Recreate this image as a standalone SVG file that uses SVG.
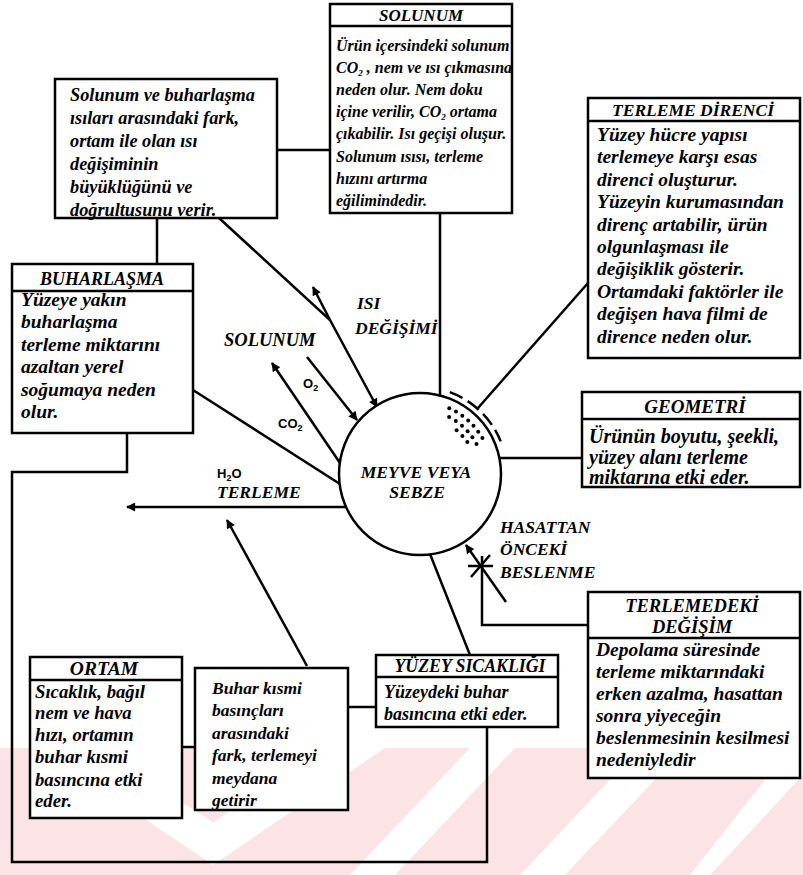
<svg xmlns="http://www.w3.org/2000/svg" width="803" height="875" viewBox="0 0 803 875">
<style>
.box{fill:#fff;stroke:#000;stroke-width:2.5}
.ln{fill:none;stroke:#000;stroke-width:2.5}
.t{font-family:"Liberation Serif","Times New Roman",serif;font-style:italic;font-weight:bold;fill:#000}
.h{font-family:"Liberation Serif","Times New Roman",serif;font-style:italic;font-weight:bold;fill:#000;text-anchor:middle}
.s{font-family:"Liberation Sans",Arial,sans-serif;font-weight:bold;font-size:13px;fill:#000}
.sub{font-size:9px}
.wm{fill:#fbe3e6}
</style>
<defs>
<marker id="ah" viewBox="0 0 10 10" refX="9" refY="5" markerWidth="14" markerHeight="9" markerUnits="userSpaceOnUse" orient="auto"><path d="M0,0 L10,5 L0,10 z" fill="#000"/></marker>
</defs>
<rect width="803" height="875" fill="#fff"/>
<g id="watermark">
<rect class="wm" x="0" y="748" width="803" height="127"/>
<polygon points="40,748 95,748 213,822 330,748 385,748 213,865" fill="#fff"/>
<polygon points="470,748 515,748 395,875 350,875" fill="#fff"/>
<polygon points="640,748 685,748 565,875 520,875" fill="#fff"/>
<polygon points="790,748 803,748 803,775 710,875 690,875" fill="#fff"/>
</g>
<g id="connectors">
<line class="ln" x1="277" y1="150" x2="330" y2="150"/>
<line class="ln" x1="157" y1="218" x2="157" y2="264"/>
<polyline class="ln" points="219,218 330,320 377,407" marker-end="url(#ah)"/>
<line class="ln" x1="330" y1="320" x2="313" y2="287" marker-end="url(#ah)"/>
<polyline class="ln" points="440,213 440,440 378,440" marker-end="url(#ah)"/>
<line class="ln" x1="307" y1="357" x2="357" y2="420" marker-end="url(#ah)"/>
<line class="ln" x1="340" y1="463" x2="272" y2="363" marker-end="url(#ah)"/>
<line class="ln" x1="193" y1="390" x2="340" y2="484"/>
<line class="ln" x1="346" y1="507" x2="127" y2="507" marker-end="url(#ah)"/>
<line class="ln" x1="307" y1="666" x2="227" y2="520" marker-end="url(#ah)"/>
<line class="ln" x1="430" y1="554" x2="470" y2="655"/>
<line class="ln" x1="506" y1="602" x2="466" y2="545" marker-end="url(#ah)"/>
<polyline class="ln" points="588,625 482,625 482,556"/>
<line class="ln" x1="468" y1="566" x2="493" y2="566"/>
<line class="ln" x1="471" y1="577" x2="490" y2="555"/>
<line class="ln" x1="500" y1="458" x2="582" y2="458"/>
<line class="ln" x1="478" y1="408" x2="588" y2="283"/>
<polyline class="ln" points="127,433 127,472 12,472 12,862 487,862 487,727"/>
<line class="ln" x1="182" y1="747" x2="195" y2="747"/>
<line class="ln" x1="348" y1="707" x2="376" y2="707"/>
</g>
<g id="fruit" font-size="17.6">
<circle cx="420" cy="474" r="81" fill="#fff" stroke="#000" stroke-width="2.5"/>
<path d="M449.8,392.2 A87,87 0 0 1 500.7,441.4" fill="none" stroke="#000" stroke-width="2.5" stroke-dasharray="14 6"/>
<g fill="#000">
<circle cx="449.3" cy="408.2" r="2"/><circle cx="456" cy="411.6" r="2"/><circle cx="462.3" cy="415.8" r="2"/><circle cx="468.2" cy="420.5" r="2"/><circle cx="473.5" cy="425.8" r="2"/><circle cx="478.2" cy="431.7" r="2"/><circle cx="482.4" cy="438" r="2"/>
<circle cx="449.1" cy="417" r="2"/><circle cx="455.8" cy="420.9" r="2"/><circle cx="462" cy="425.7" r="2"/><circle cx="467.6" cy="431.2" r="2"/><circle cx="472.4" cy="437.3" r="2"/><circle cx="476.5" cy="444" r="2"/>
<circle cx="456.6" cy="430.3" r="2"/><circle cx="462.4" cy="435.9" r="2"/><circle cx="467.3" cy="442.1" r="2"/>
</g>
<text class="h" x="416" y="478">MEYVE VEYA</text>
<text class="h" x="417" y="498">SEBZE</text>
</g>
<g id="labels" font-size="17.5">
<text class="t" x="357" y="309">ISI</text>
<text class="t" x="355" y="334">DEĞİŞİMİ</text>
<text class="t" x="224" y="346" font-size="18.5">SOLUNUM</text>
<text class="s" x="303" y="388">O<tspan class="sub" dy="3">2</tspan></text>
<text class="s" x="278" y="428">CO<tspan class="sub" dy="3">2</tspan></text>
<text class="s" x="217" y="478">H<tspan class="sub" dy="3">2</tspan><tspan dy="-3">O</tspan></text>
<text class="t" x="217" y="498">TERLEME</text>
<text class="t" x="500" y="533">HASATTAN</text>
<text class="t" x="500" y="555">ÖNCEKİ</text>
<text class="t" x="500" y="578">BESLENME</text>
</g>
<g id="isi-farki" font-size="18.3">
<rect class="box" x="55" y="79" width="222" height="139"/>
<text class="t" x="70" y="101">Solunum ve buharlaşma</text>
<text class="t" x="70" y="124">ısıları arasındaki fark,</text>
<text class="t" x="70" y="147">ortam ile olan ısı</text>
<text class="t" x="70" y="170">değişiminin</text>
<text class="t" x="70" y="193">büyüklüğünü ve</text>
<text class="t" x="70" y="216">doğrultusunu verir.</text>
</g>
<g id="solunum" font-size="16">
<rect class="box" x="330" y="4" width="182" height="209"/>
<line class="ln" x1="330" y1="26" x2="512" y2="26"/>
<text class="h" x="421" y="21" font-size="17">SOLUNUM</text>
<text class="t" x="336" y="51">Ürün içersindeki solunum</text>
<text class="t" x="336" y="73">CO<tspan class="sub" dy="3">2</tspan><tspan dy="-3"> , nem ve ısı çıkmasına</tspan></text>
<text class="t" x="336" y="95">neden olur. Nem doku</text>
<text class="t" x="336" y="117">içine verilir, CO<tspan class="sub" dy="3">2</tspan><tspan dy="-3"> ortama</tspan></text>
<text class="t" x="336" y="139">çıkabilir. Isı geçişi oluşur.</text>
<text class="t" x="336" y="162">Solunum ısısı, terleme</text>
<text class="t" x="336" y="184">hızını artırma</text>
<text class="t" x="336" y="206">eğilimindedir.</text>
</g>
<g id="terleme-direnci" font-size="19.5">
<rect class="box" x="588" y="98" width="212" height="260"/>
<line class="ln" x1="588" y1="121" x2="800" y2="121"/>
<text class="h" x="693" y="116" font-size="17.5">TERLEME DİRENCİ</text>
<text class="t" x="597" y="141">Yüzey hücre yapısı</text>
<text class="t" x="597" y="163">terlemeye karşı esas</text>
<text class="t" x="597" y="186">direnci oluşturur.</text>
<text class="t" x="597" y="208">Yüzeyin kurumasından</text>
<text class="t" x="597" y="231">direnç artabilir, ürün</text>
<text class="t" x="597" y="253">olgunlaşması ile</text>
<text class="t" x="597" y="275">değişiklik gösterir.</text>
<text class="t" x="597" y="298">Ortamdaki faktörler ile</text>
<text class="t" x="597" y="320">değişen hava filmi de</text>
<text class="t" x="597" y="343">dirence neden olur.</text>
</g>
<g id="buharlasma" font-size="19.5">
<rect class="box" x="12" y="264" width="181" height="169"/>
<line class="ln" x1="12" y1="291" x2="193" y2="291"/>
<text class="h" x="102" y="285" font-size="18">BUHARLAŞMA</text>
<text class="t" x="21" y="306">Yüzeye yakın</text>
<text class="t" x="21" y="328">buharlaşma</text>
<text class="t" x="21" y="351">terleme miktarını</text>
<text class="t" x="21" y="373">azaltan yerel</text>
<text class="t" x="21" y="396">soğumaya neden</text>
<text class="t" x="21" y="418">olur.</text>
</g>
<g id="geometri" font-size="20">
<rect class="box" x="582" y="392" width="218" height="95"/>
<line class="ln" x1="582" y1="419" x2="800" y2="419"/>
<text class="h" x="695" y="413" font-size="19">GEOMETRİ</text>
<text class="t" x="589" y="443">Ürünün boyutu, şeekli,</text>
<text class="t" x="589" y="464">yüzey alanı terleme</text>
<text class="t" x="589" y="484">miktarına etki eder.</text>
</g>
<g id="terlemedeki-degisim" font-size="19.5">
<rect class="box" x="588" y="592" width="212" height="186"/>
<line class="ln" x1="588" y1="638" x2="800" y2="638"/>
<text class="h" x="692" y="612" font-size="18.5">TERLEMEDEKİ</text>
<text class="h" x="692" y="633" font-size="18.5">DEĞİŞİM</text>
<text class="t" x="596" y="656">Depolama süresinde</text>
<text class="t" x="596" y="678">terleme miktarındaki</text>
<text class="t" x="596" y="700">erken azalma, hasattan</text>
<text class="t" x="596" y="722">sonra yiyeceğin</text>
<text class="t" x="596" y="744">beslenmesinin kesilmesi</text>
<text class="t" x="596" y="766">nedeniyledir</text>
</g>
<g id="yuzey-sicakligi" font-size="18">
<rect class="box" x="376" y="655" width="182" height="72"/>
<line class="ln" x1="376" y1="677" x2="558" y2="677"/>
<text class="h" x="470" y="672" font-size="17.8">YÜZEY SICAKLIĞI</text>
<text class="t" x="384" y="698">Yüzeydeki buhar</text>
<text class="t" x="384" y="720">basıncına etki eder.</text>
</g>
<g id="ortam" font-size="18.7">
<rect class="box" x="30" y="657" width="152" height="161"/>
<line class="ln" x1="30" y1="680" x2="182" y2="680"/>
<text class="h" x="104" y="675" font-size="19.5">ORTAM</text>
<text class="t" x="35" y="698">Sıcaklık, bağıl</text>
<text class="t" x="35" y="719">nem ve hava</text>
<text class="t" x="35" y="741">hızı, ortamın</text>
<text class="t" x="35" y="763">buhar kısmi</text>
<text class="t" x="35" y="786">basıncına etki</text>
<text class="t" x="35" y="807">eder.</text>
</g>
<g id="buhar-farki" font-size="17.5">
<rect class="box" x="195" y="668" width="153" height="142"/>
<text class="t" x="212" y="694">Buhar kısmi</text>
<text class="t" x="212" y="716">basınçları</text>
<text class="t" x="212" y="739">arasındaki</text>
<text class="t" x="212" y="761">fark, terlemeyi</text>
<text class="t" x="212" y="784">meydana</text>
<text class="t" x="212" y="806">getirir</text>
</g>
</svg>
